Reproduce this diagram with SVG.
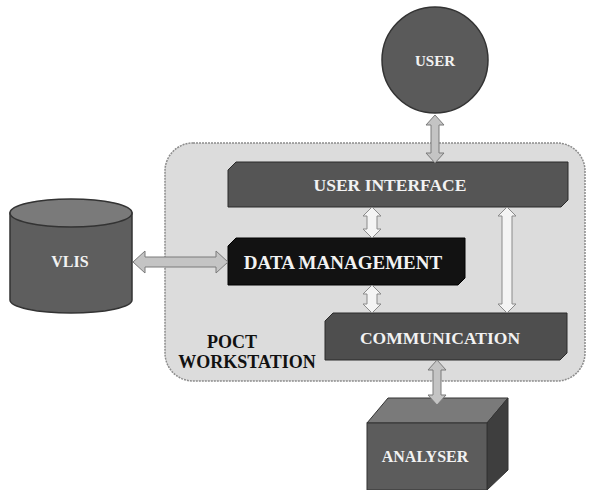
<svg xmlns="http://www.w3.org/2000/svg" width="590" height="490" viewBox="0 0 590 490">
<defs>
<style>
.lbl{font-family:"Liberation Serif","Times New Roman",serif;font-weight:bold;fill:#f2f2f2;text-anchor:middle;font-size:15px}
.big{font-size:17.5px}
.blk{font-family:"Liberation Serif","Times New Roman",serif;font-weight:bold;fill:#111;text-anchor:middle;font-size:18px}
.arrG{fill:#c4c4c4;stroke:#7a7a7a;stroke-width:1}
.arrW{fill:#f4f4f4;stroke:#8a8a8a;stroke-width:1}
</style>
</defs>
<rect width="590" height="490" fill="#fff"/>
<g id="workstation">
<rect x="165" y="143" width="420" height="238" rx="28" fill="#dcdcdc" stroke="#8c8c8c" stroke-width="1.5" stroke-dasharray="2 1"/>
<text class="blk" x="232" y="348">POCT</text>
<text class="blk" x="247" y="368">WORKSTATION</text>
</g>
<g id="user">
<circle cx="435" cy="60" r="53" fill="#5a5a5a" stroke="#333" stroke-width="1.5"/>
<text class="lbl" x="435" y="66">USER</text>
</g>
<g id="vlis">
<path d="M10,213 L10,300 A61,13 0 0 0 132,300 L132,213 Z" fill="#5e5e5e" stroke="#333" stroke-width="1.5"/>
<ellipse cx="71" cy="213" rx="61" ry="14" fill="#7a7a7a" stroke="#333" stroke-width="1.5"/>
<text class="lbl" x="70" y="267" style="font-size:16px">VLIS</text>
</g>
<g id="user-interface">
<polygon points="236,162 568,162 568,200 561,207 228,207 228,170" fill="#555" stroke="#2a2a2a" stroke-width="1"/>
<text class="lbl big" x="390" y="191">USER INTERFACE</text>
</g>
<g id="data-management">
<polygon points="236,238 465,238 465,278 458,285 228,285 228,246" fill="#121212" stroke="#000" stroke-width="1"/>
<text class="lbl" x="343" y="269" style="font-size:19px">DATA MANAGEMENT</text>
</g>
<g id="communication">
<polygon points="333,313 567,313 567,353 560,360 325,360 325,321" fill="#4e4e4e" stroke="#2a2a2a" stroke-width="1"/>
<text class="lbl big" x="440" y="344">COMMUNICATION</text>
</g>
<g id="analyser">
<polygon points="367,423 388,398 508,398 487,423" fill="#7a7a7a" stroke="#333" stroke-width="1"/>
<polygon points="487,423 508,398 508,470 487,490" fill="#3e3e3e" stroke="#333" stroke-width="1"/>
<rect x="367" y="423" width="120" height="67" fill="#5c5c5c" stroke="#333" stroke-width="1"/>
<text class="lbl" x="425" y="462" style="font-size:16px">ANALYSER</text>
</g>
<g id="connectors">
<polygon class="arrG" points="435,115 444,125 439,125 439,153 444,153 435,163 426,153 431,153 431,125 426,125"/>
<polygon class="arrG" points="133,262 145,251 145,257 216,257 216,251 228,262 216,273 216,267 145,267 145,273"/>
<polygon class="arrW" points="372,207 381,216 377,216 377,229 381,229 372,238 363,229 367,229 367,216 363,216"/>
<polygon class="arrW" points="372,285 381,294 377,294 377,304 381,304 372,313 363,304 367,304 367,294 363,294"/>
<polygon class="arrW" points="507,207 516,216 512,216 512,304 516,304 507,313 498,304 502,304 502,216 498,216"/>
<polygon class="arrG" points="437,360 446,370 441,370 441,395 446,395 437,405 428,395 433,395 433,370 428,370"/>
</g>
</svg>
